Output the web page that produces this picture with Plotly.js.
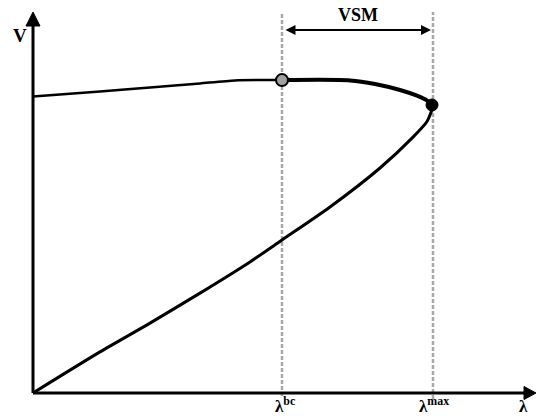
<!DOCTYPE html>
<html>
<head>
<meta charset="utf-8">
<script src="https://cdn.plot.ly/plotly-3.0.1.min.js"></script>
<style>html,body{margin:0;padding:0;background:#fff;}#chart{width:537px;height:419px;}</style>
</head>
<body>
<div id="chart"></div>
<script>
// Upper (stable) branch, left of lambda_bc
var upperLeftLambda = [0, 0.1675, 0.2925, 0.4175, 0.505, 0.6225];
var upperLeftV      = [0.988, 1.005, 1.018, 1.032, 1.042, 1.043];
// Upper branch between lambda_bc and the nose (drawn thick)
var upperRightLambda = [0.6225, 0.7925, 0.855, 0.9175, 0.96, 0.985, 1.0];
var upperRightV      = [1.043, 1.042, 1.030, 1.010, 0.991, 0.975, 0.953];
// Lower (unstable) branch
var lowerLambda = [0, 0.1675, 0.2925, 0.4175, 0.5425, 0.6225, 0.7425, 0.8675, 0.95, 0.985, 1.0];
var lowerV      = [0, 0.137, 0.233, 0.333, 0.437, 0.51, 0.62, 0.75, 0.853, 0.905, 0.953];
// Special points
var lambdaBC = 0.6225, vBC = 1.043;
var lambdaMax = 0.9975, vMax = 0.96;
var tickLabels = ['λ<sup>bc</sup>', 'λ<sup>max</sup>'];
var axisLabelX = 'λ', axisLabelY = 'V', marginLabel = 'VSM';

var serif = 'Liberation Serif, Times New Roman, serif';

var traces = [
  {x: upperLeftLambda, y: upperLeftV, mode: 'lines', line: {color: '#000', width: 2.5, shape: 'spline', smoothing: 0.6}, hoverinfo: 'skip'},
  {x: upperRightLambda, y: upperRightV, mode: 'lines', line: {color: '#000', width: 4, shape: 'spline', smoothing: 0.7}, hoverinfo: 'skip'},
  {x: lowerLambda, y: lowerV, mode: 'lines', line: {color: '#000', width: 3, shape: 'spline', smoothing: 0.7}, hoverinfo: 'skip'},
  {x: [lambdaBC], y: [vBC], mode: 'markers', marker: {size: 12, color: '#a0a0a0', line: {color: '#000', width: 2}}, cliponaxis: false, hoverinfo: 'skip'},
  {x: [lambdaMax], y: [vMax], mode: 'markers', marker: {size: 12, color: '#000000', opacity: 1, line: {color: '#000000', width: 1}}, cliponaxis: false, hoverinfo: 'skip'}
];

var topV = 1.27;
var shapes = [
  // dashed guide lines (beneath the curves)
  {type: 'line', layer: 'below', x0: lambdaBC, x1: lambdaBC, y0: -0.01, y1: topV, line: {color: '#a8a8a8', width: 2.5, dash: '4px,2px'}},
  {type: 'line', layer: 'below', x0: 1.0, x1: 1.0, y0: -0.02, y1: topV, line: {color: '#a8a8a8', width: 2.5, dash: '4px,2px'}},
  // axes
  {type: 'line', x0: 0, x1: 1.23, y0: 0, y1: 0, line: {color: '#000', width: 3}},
  {type: 'line', x0: 0, x1: 0, y0: 0, y1: 1.23, line: {color: '#000', width: 3}},
  {type: 'path', path: 'M -0.0175 1.2233 L 0 1.27 L 0.0175 1.2233 Z', fillcolor: '#000', line: {color: '#000', width: 1}},
  {type: 'path', path: 'M 1.2275 -0.0217 L 1.2575 0 L 1.2275 0.0217 Z', fillcolor: '#000', line: {color: '#000', width: 1}}
];

var labelFont = {family: serif, size: 17, color: '#000'};
var annotations = [
  // VSM double arrow
  {x: 0.995, y: 1.21, ax: 0.6275, ay: 1.21, xref: 'x', yref: 'y', axref: 'x', ayref: 'y', text: '', showarrow: true,
   arrowhead: 2, startarrowhead: 2, arrowside: 'end+start', arrowsize: 1, startarrowsize: 1, arrowwidth: 2, arrowcolor: '#000'},
  {x: (lambdaBC + 1.0) / 2 + 0.0, y: 1.26, xref: 'x', yref: 'y', text: '<b>' + marginLabel + '</b>', showarrow: false,
   font: {family: serif, size: 18, color: '#000'}, xanchor: 'center', yanchor: 'middle'},
  {x: -0.0325, y: 1.193, xref: 'x', yref: 'y', text: '<b>' + axisLabelY + '</b>', showarrow: false,
   font: {family: serif, size: 19, color: '#000'}, xanchor: 'center', yanchor: 'middle'},
  {x: 0.6, y: -0.0833, xref: 'x', yref: 'y', text: '<b>' + tickLabels[0] + '</b>', showarrow: false,
   font: labelFont, xanchor: 'left', yanchor: 'bottom'},
  {x: 0.96, y: -0.0833, xref: 'x', yref: 'y', text: '<b>' + tickLabels[1] + '</b>', showarrow: false,
   font: labelFont, xanchor: 'left', yanchor: 'bottom'},
  {x: 1.21, y: -0.0833, xref: 'x', yref: 'y', text: '<b>' + axisLabelX + '</b>', showarrow: false,
   font: labelFont, xanchor: 'left', yanchor: 'bottom'}
];

var layout = {
  width: 537, height: 419,
  margin: {l: 0, r: 0, t: 0, b: 0},
  paper_bgcolor: '#fff', plot_bgcolor: '#fff',
  showlegend: false,
  xaxis: {range: [-0.0825, 1.26], visible: false, fixedrange: true},
  yaxis: {range: [-0.08667, 1.31], visible: false, fixedrange: true},
  shapes: shapes,
  annotations: annotations
};

Plotly.newPlot('chart', traces, layout, {staticPlot: true, displayModeBar: false});
</script>
</body>
</html>
